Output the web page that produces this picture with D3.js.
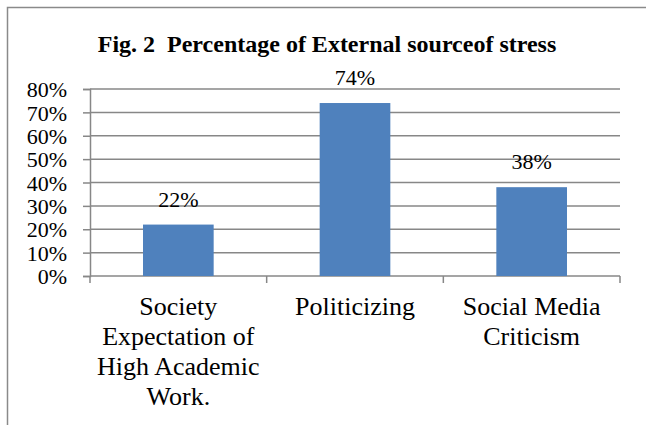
<!DOCTYPE html>
<html>
<head>
<meta charset="utf-8">
<script src="https://cdn.jsdelivr.net/npm/d3@7"></script>
<style>
  html, body { margin: 0; padding: 0; background: #fff; }
  svg { display: block; }
  text { font-family: "Liberation Serif", "Times New Roman", serif; fill: #000; }
</style>
</head>
<body>
<svg id="chart" width="646" height="425"></svg>
<script>
const title = "Fig. 2\u00a0\u00a0Percentage of External sourceof stress";
const categories = ["Society Expectation of High Academic Work.", "Politicizing", "Social Media Criticism"];
const categoryLines = [["Society", "Expectation of", "High Academic", "Work."], ["Politicizing"], ["Social Media", "Criticism"]];
const values = [22, 74, 38];
const yTicks = [0, 10, 20, 30, 40, 50, 60, 70, 80];

const svg = d3.select("#chart");
const W = 646, H = 425;
const plot = { left: 90, right: 620, top: 89, bottom: 276 };

// outer frame (top and left visible)
svg.append("rect")
  .attr("x", 7.5).attr("y", 7.5)
  .attr("width", W + 20).attr("height", H + 20)
  .attr("fill", "none").attr("stroke", "#8a8a8a").attr("stroke-width", 1.5);

svg.append("text")
  .attr("x", 327).attr("y", 52)
  .attr("text-anchor", "middle")
  .attr("font-size", 24).attr("font-weight", "bold")
  .text(title);

const x = d3.scaleBand().domain(categories).range([plot.left, plot.right])
  .paddingInner(0.6).paddingOuter(0.3);
const y = d3.scaleLinear().domain([0, 80]).range([plot.bottom, plot.top]);

// gridlines
svg.append("g").selectAll("line").data(yTicks.filter(d => d > 0)).join("line")
  .attr("x1", plot.left).attr("x2", plot.right)
  .attr("y1", d => y(d)).attr("y2", d => y(d))
  .attr("stroke", "#878787").attr("stroke-width", 1.5);

// y axis
const yAxis = d3.axisLeft(y).tickValues(yTicks).tickFormat(d => d + "%").tickSize(7).tickPadding(16);
const gy = svg.append("g").attr("transform", `translate(${plot.left},0)`).call(yAxis);
gy.select(".domain").attr("stroke", "#878787").attr("stroke-width", 1.5);
gy.selectAll(".tick line").attr("stroke", "#878787").attr("stroke-width", 1.5);
gy.selectAll(".tick text").attr("font-size", 22).attr("font-family", "Liberation Serif").attr("fill", "#000").attr("dy", "0.35em");

// x axis line + ticks at band boundaries
const xBound = d3.scaleLinear().domain([0, categories.length]).range([plot.left, plot.right]);
svg.append("line")
  .attr("x1", plot.left).attr("x2", plot.right)
  .attr("y1", plot.bottom).attr("y2", plot.bottom)
  .attr("stroke", "#878787").attr("stroke-width", 1.5);
svg.append("g").selectAll("line").data(d3.range(categories.length + 1)).join("line")
  .attr("x1", d => xBound(d)).attr("x2", d => xBound(d))
  .attr("y1", plot.bottom).attr("y2", plot.bottom + 7)
  .attr("stroke", "#878787").attr("stroke-width", 1.5);

// bars
svg.append("g").selectAll("rect").data(values).join("rect")
  .attr("x", (d, i) => x(categories[i]))
  .attr("width", x.bandwidth())
  .attr("y", d => y(d))
  .attr("height", d => y(0) - y(d))
  .attr("fill", "#4f81bd");

// data labels
svg.append("g").selectAll("text").data(values).join("text")
  .attr("x", (d, i) => x(categories[i]) + x.bandwidth() / 2)
  .attr("y", d => y(d) - 18)
  .attr("text-anchor", "middle")
  .attr("font-size", 22)
  .text(d => d + "%");

// category labels
categories.forEach((c, i) => {
  const t = svg.append("text")
    .attr("x", x(c) + x.bandwidth() / 2)
    .attr("y", 315)
    .attr("text-anchor", "middle")
    .attr("font-size", 26);
  categoryLines[i].forEach((ln, j) => {
    t.append("tspan").attr("x", x(c) + x.bandwidth() / 2).attr("dy", j === 0 ? 0 : 30).text(ln);
  });
});
</script>
</body>
</html>
